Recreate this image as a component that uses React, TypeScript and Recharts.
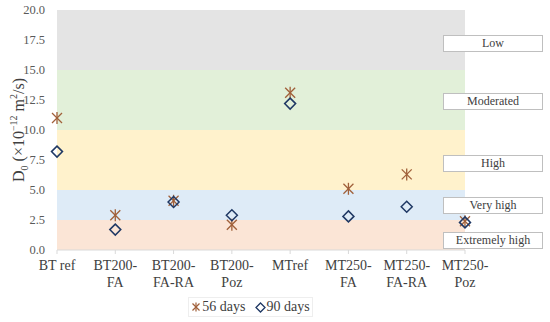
import React from "react";
import {
  ComposedChart,
  Line,
  XAxis,
  YAxis,
  ReferenceArea,
  Label,
} from "recharts";

const categories = [
  "BT ref",
  "BT200-FA",
  "BT200-FA-RA",
  "BT200-Poz",
  "MTref",
  "MT250-FA",
  "MT250-FA-RA",
  "MT250-Poz",
];
const days56 = [11.0, 2.9, 4.1, 2.1, 13.1, 5.1, 6.3, 2.4];
const days90 = [8.2, 1.7, 4.0, 2.9, 12.2, 2.8, 3.6, 2.3];
const yTicks = [0, 2.5, 5, 7.5, 10, 12.5, 15, 17.5, 20];

const bandFrom = [0, 2.5, 5, 10, 15];
const bandTo = [2.5, 5, 10, 15, 20];
const bandLabels = ["Extremely high", "Very high", "High", "Moderated", "Low"];
const bandColors = ["#FBE5D6", "#DEEBF7", "#FFF2CC", "#E2F0D9", "#E4E4E4"];
// pixel tops of the label boxes on the right
const boxTops = [232, 197, 155, 93, 35];

const FONT = "Liberation Serif, Times New Roman, DejaVu Serif, serif";
const STAR = "#A0603A";
const DIAMOND = "#1F3864";

const data = categories.map((name, i) => ({
  name,
  d56: days56[i],
  d90: days90[i],
}));

function Star(props: any) {
  const { cx, cy } = props;
  if (cx == null || cy == null) return null;
  const r = 5;
  return (
    <g stroke={STAR} strokeWidth={1.3}>
      <line x1={cx - r} y1={cy - r} x2={cx + r} y2={cy + r} />
      <line x1={cx - r} y1={cy + r} x2={cx + r} y2={cy - r} />
      <line x1={cx} y1={cy - r - 1} x2={cx} y2={cy + r + 1} />
    </g>
  );
}

function Diamond(props: any) {
  const { cx, cy } = props;
  if (cx == null || cy == null) return null;
  const r = 5.5;
  return (
    <path
      d={`M${cx},${cy - r} L${cx + r},${cy} L${cx},${cy + r} L${cx - r},${cy} Z`}
      fill="none"
      stroke={DIAMOND}
      strokeWidth={1.5}
    />
  );
}

function XTick(props: any) {
  const { x, y, payload } = props;
  const s: string = payload.value;
  const i = s.indexOf("-");
  const lines = i >= 0 ? [s.slice(0, i + 1), s.slice(i + 1)] : [s];
  return (
    <text x={x} y={y + 14} textAnchor="middle" fill="#404040" fontSize={14} style={{ fontFamily: FONT }}>
      {lines.map((l, k) => (
        <tspan key={k} x={x} dy={k === 0 ? 0 : 17}>
          {l}
        </tspan>
      ))}
    </text>
  );
}

function YTick(props: any) {
  const { x, y, payload } = props;
  return (
    <text x={x} y={y} dy={4} textAnchor="end" fill="#595959" fontSize={12.5} style={{ fontFamily: FONT }}>
      {Number(payload.value).toFixed(1)}
    </text>
  );
}

function YLabel(props: any) {
  const vb = props.viewBox;
  const cx = 20;
  const cy = vb.y + vb.height / 2;
  return (
    <text
      x={cx}
      y={cy}
      transform={`rotate(-90, ${cx}, ${cy})`}
      textAnchor="middle"
      dominantBaseline="middle"
      fill="#404040"
      fontSize={16}
      style={{ fontFamily: FONT }}
    >
      <tspan>D</tspan>
      <tspan baselineShift="sub" fontSize={10}>0</tspan>
      <tspan> (×10</tspan>
      <tspan baselineShift="super" fontSize={10}>−12</tspan>
      <tspan> m</tspan>
      <tspan baselineShift="super" fontSize={10}>2</tspan>
      <tspan>/s)</tspan>
    </text>
  );
}

function LegendBox() {
  return (
    <div
      style={{
        position: "absolute",
        left: 188,
        top: 297,
        width: 125,
        height: 20,
        border: "1px solid #EEEEEE",
        fontFamily: FONT,
        fontSize: 14,
        color: "#404040",
        display: "flex",
        alignItems: "center",
        justifyContent: "center",
        gap: 9,
        boxSizing: "border-box",
      }}
    >
      <span style={{ display: "flex", alignItems: "center", gap: 1 }}>
        <svg width={10} height={10}>
          <g stroke={STAR} strokeWidth={1.2}>
            <line x1={1.5} y1={1.5} x2={8.5} y2={8.5} />
            <line x1={1.5} y1={8.5} x2={8.5} y2={1.5} />
            <line x1={5} y1={0.5} x2={5} y2={9.5} />
          </g>
        </svg>
        56 days
      </span>
      <span style={{ display: "flex", alignItems: "center", gap: 1 }}>
        <svg width={11} height={11}>
          <path d="M5.5,1 L10,5.5 L5.5,10 L1,5.5 Z" fill="none" stroke={DIAMOND} strokeWidth={1.3} />
        </svg>
        90 days
      </span>
    </div>
  );
}

export default function App() {
  return (
    <div style={{ position: "absolute", left: 0, top: 0, width: 550, height: 322, background: "#fff" }}>
      <ComposedChart
        width={550}
        height={322}
        data={data}
        margin={{ top: 10, right: 85, bottom: 32, left: 0 }}
      >
        {bandFrom.map((f, i) => (
          <ReferenceArea
            key={i}
            y1={f}
            y2={bandTo[i]}
            fill={bandColors[i]}
            fillOpacity={1}
            stroke="none"
            ifOverflow="visible"
          />
        ))}
        <XAxis
          dataKey="name"
          type="category"
          scale="point"
          padding={{ left: 0, right: 0 }}
          interval={0}
          height={40}
          stroke="#D9D9D9"
          tickLine={{ stroke: "#D9D9D9" }}
          tickSize={4}
          tick={<XTick />}
        />
        <YAxis
          domain={[0, 20]}
          ticks={yTicks}
          width={57}
          axisLine={false}
          tickLine={false}
          tick={<YTick />}
          tickMargin={6}
        >
          <Label content={<YLabel />} />
        </YAxis>
        <Line
          dataKey="d56"
          name="56 days"
          stroke="none"
          isAnimationActive={false}
          dot={<Star />}
          activeDot={false}
        />
        <Line
          dataKey="d90"
          name="90 days"
          stroke="none"
          isAnimationActive={false}
          dot={<Diamond />}
          activeDot={false}
        />
      </ComposedChart>
      {bandLabels.map((l, i) => (
        <div
          key={l}
          style={{
            position: "absolute",
            left: 443,
            top: boxTops[i],
            width: 98,
            height: 15,
            background: "#fff",
            border: "1px solid #BFBFBF",
            fontFamily: FONT,
            fontSize: 12,
            color: "#404040",
            textAlign: "center",
            lineHeight: "15px",
          }}
        >
          {l}
        </div>
      ))}
      <LegendBox />
    </div>
  );
}
